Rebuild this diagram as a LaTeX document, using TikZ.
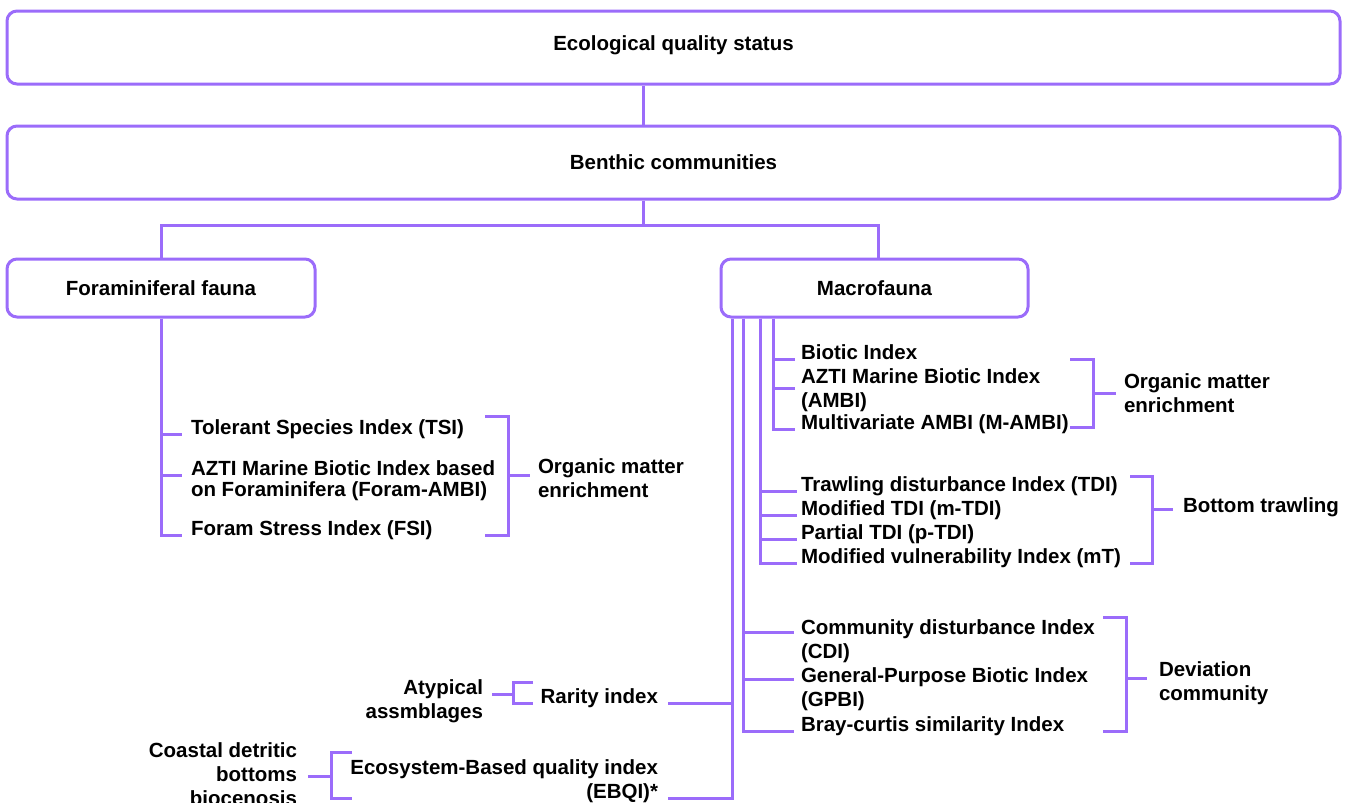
\documentclass[tikz,border=0pt]{standalone}
\usepackage{fontspec}
\setmainfont{Liberation Sans}
\definecolor{vio}{RGB}{155,108,250}
\begin{document}
\begin{tikzpicture}[x=0.5pt,y=-0.5pt,
  box/.style={draw=vio, line width=1.5pt, rounded corners=5pt, inner sep=0pt,
    font=\bfseries\fontsize{10.25}{12}\selectfont, text=black},
  link/.style={draw=vio, line width=1.5pt},
  lbl/.style={font=\bfseries\fontsize{10.25}{12}\selectfont, inner ysep=0pt, outer sep=0pt, text=black}]
\useasboundingbox (0,0) rectangle (1351,803);

% main boxes
\node[box, minimum width=666.5pt, minimum height=36.5pt, text depth=4pt] (eqs) at (673.5,47.5) {Ecological quality status};
\node[box, minimum width=666.5pt, minimum height=36.5pt] (benthic) at (673.5,162.5) {Benthic communities};
\node[box, minimum width=154pt, minimum height=29pt] (foram) at (161,288) {Foraminiferal fauna};
\node[box, minimum width=153.5pt, minimum height=29pt] (macro) at (874.5,288) {Macrofauna};

\coordinate (split) at (643,225);
\coordinate (mtop) at (878,225);
\draw[link] (eqs.south -| split) -- (benthic.north -| split);
\draw[link] (benthic.south -| split) -- (split);
\draw[link] (foram.north) |- (split) -- (mtop) -- (mtop |- macro.north);

% foraminiferal items
\node[lbl, anchor=base west, inner xsep=4.5pt] (tsi) at (182,434) {Tolerant Species Index (TSI)};
\node[lbl, anchor=base west, inner xsep=4.5pt, align=left, font=\bfseries\fontsize{10.25}{10.5}\selectfont] (famb) at (182,496) {AZTI Marine Biotic Index based\\on Foraminifera (Foram-AMBI)};
\node[lbl, anchor=base west, inner xsep=4.5pt] (fsi) at (182,535) {Foram Stress Index (FSI)};
\draw[link] (foram.south) |- (fsi.base west);
\draw[link] (foram.south) |- (tsi.base west);
\draw[link] (foram.south) |- ([yshift=10.5pt]famb.base west);

\coordinate (fbt) at (485,416);
\coordinate (fbb) at (485,535);
\coordinate (fbm) at (508,475);
\node[lbl, anchor=west, inner xsep=4pt, align=left] (omF) at (530,478.5) {Organic matter\\enrichment};
\draw[link] (fbt) -| (fbm) |- (fbb);
\draw[link] (fbm) -- (fbm -| omF.west);

% macrofauna stems
\coordinate (mA) at (732,798);
\coordinate (mB) at (743,0);
\coordinate (mC) at (760,0);
\coordinate (mD) at (773,0);

% organic matter group
\node[lbl, anchor=base west, inner xsep=3pt] (bi) at (795,359) {Biotic Index};
\node[lbl, anchor=base west, inner xsep=3pt, align=left] (ambi) at (795,407) {AZTI Marine Biotic Index\\(AMBI)};
\node[lbl, anchor=base west, inner xsep=3pt] (mambi) at (795,429) {Multivariate AMBI (M-AMBI)};
\draw[link] (macro.south -| mD) |- (mambi.base west);
\draw[link] (macro.south -| mD) |- (bi.base west);
\draw[link] (macro.south -| mD) |- ([yshift=9.5pt]ambi.base west);
\coordinate (obt) at (1070,359);
\coordinate (obb) at (1070,427);
\coordinate (obm) at (1093,393);
\node[lbl, anchor=west, inner xsep=4pt, align=left] (omM) at (1116,393) {Organic matter\\enrichment};
\draw[link] (obt) -| (obm) |- (obb);
\draw[link] (obm) -- (obm -| omM.west);

% bottom trawling group
\node[lbl, anchor=base west, inner xsep=2pt] (tdi) at (797,491) {Trawling disturbance Index (TDI)};
\node[lbl, anchor=base west, inner xsep=2pt] (mtdi) at (797,515) {Modified TDI (m-TDI)};
\node[lbl, anchor=base west, inner xsep=2pt] (ptdi) at (797,539) {Partial TDI (p-TDI)};
\node[lbl, anchor=base west, inner xsep=2pt] (mt) at (797,563) {Modified vulnerability Index (mT)};
\draw[link] (macro.south -| mC) |- (mt.base west);
\draw[link] (macro.south -| mC) |- (tdi.base west);
\draw[link] (macro.south -| mC) |- (mtdi.base west);
\draw[link] (macro.south -| mC) |- (ptdi.base west);
\coordinate (tbt) at (1130,476);
\coordinate (tbb) at (1130,563);
\coordinate (tbm) at (1152,509);
\node[lbl, anchor=west, inner xsep=5pt] (bt) at (1173,507) {Bottom trawling};
\draw[link] (tbt) -| (tbm) |- (tbb);
\draw[link] (tbm) -- (tbm -| bt.west);

% deviation group
\node[lbl, anchor=base west, inner xsep=3.5pt, align=left] (cdi) at (794,658) {Community disturbance Index\\(CDI)};
\node[lbl, anchor=base west, inner xsep=3.5pt, align=left] (gpbi) at (794,706) {General-Purpose Biotic Index\\(GPBI)};
\node[lbl, anchor=base west, inner xsep=3.5pt] (bray) at (794,731) {Bray-curtis similarity Index};
\draw[link] (macro.south -| mB) |- (bray.base west);
\draw[link] (macro.south -| mB) |- ([yshift=13pt]cdi.base west);
\draw[link] (macro.south -| mB) |- ([yshift=13.5pt]gpbi.base west);
\coordinate (dbt) at (1103,617);
\coordinate (dbb) at (1103,731);
\coordinate (dbm) at (1126,678);
\node[lbl, anchor=west, inner xsep=6pt, align=left] (dev) at (1147,683) {Deviation\\community};
\draw[link] (dbt) -| (dbm) |- (dbb);
\draw[link] (dbm) -- (dbm -| dev.west);

% left group
\node[lbl, anchor=base east, inner xsep=5pt] (rarity) at (668,703) {Rarity index};
\node[lbl, anchor=east, inner xsep=5pt, align=right] (ebqi) at (668,781.5) {Ecosystem-Based quality index\\(EBQI)*};
\draw[link] (macro.south -| mA) -- (mA) -- (mA -| ebqi.east);
\draw[link] (mA |- rarity.base east) -- (rarity.base east);

\coordinate (rbt) at (533,682);
\coordinate (rbb) at (533,703);
\coordinate (rbm) at (513,694);
\node[lbl, anchor=east, inner xsep=4.5pt, align=right] (atyp) at (492,701) {Atypical\\assmblages};
\draw[link] (rbt) -| (rbm) |- (rbb);
\draw[link] (rbm) -- (rbm -| atyp.east);

\coordinate (ebt) at (352,752);
\coordinate (ebb) at (352,798);
\coordinate (ebm) at (331,776);
\node[lbl, anchor=east, inner xsep=5.5pt, align=right] (coast) at (308,774) {Coastal detritic\\bottoms\\biocenosis};
\draw[link] (ebt) -| (ebm) |- (ebb);
\draw[link] (ebm) -- (ebm -| coast.east);
\end{tikzpicture}
\end{document}
